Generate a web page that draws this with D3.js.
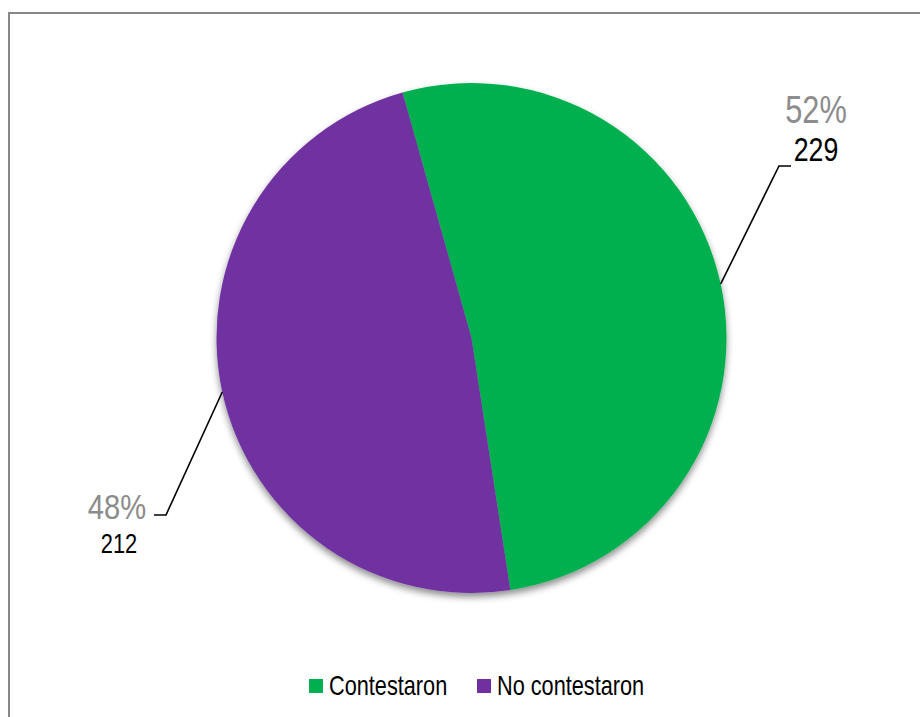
<!DOCTYPE html>
<html>
<head>
<meta charset="utf-8">
<script src="https://cdn.jsdelivr.net/npm/d3@7"></script>
<style>
  html, body { margin: 0; padding: 0; background: #fff; }
  svg { display: block; }
  text { font-family: "Liberation Sans", Arial, sans-serif; }
</style>
</head>
<body>
<svg id="chart" width="920" height="717"></svg>
<script>
// Survey responses
const categories = ["Contestaron", "No contestaron"];
const values = [229, 212];
const colors = ["#00B050", "#7030A0"];

const svg = d3.select("#chart");
const W = 920, H = 717;
const NARROW = 0.81; // horizontal squeeze giving a narrow face

// chart-area frame
svg.append("rect")
  .attr("x", 9).attr("y", 13)
  .attr("width", W).attr("height", H)
  .attr("fill", "#fff")
  .attr("stroke", "#878787")
  .attr("stroke-width", 2);

// soft shadow under the pie
const defs = svg.append("defs");
const f = defs.append("filter").attr("id", "pieShadow")
  .attr("x", "-10%").attr("y", "-10%").attr("width", "120%").attr("height", "125%");
f.append("feDropShadow")
  .attr("dx", 0).attr("dy", 4)
  .attr("stdDeviation", 3.5)
  .attr("flood-color", "#000")
  .attr("flood-opacity", 0.45);

const cx = 471.5, cy = 338, R = 255;
const start = -15.7 * Math.PI / 180;

const data = categories.map((c, i) => ({ name: c, value: values[i], color: colors[i] }));
const total = d3.sum(values);
const pct = d3.format(".0%");

const pie = d3.pie().value(d => d.value).sort(null)
  .startAngle(start).endAngle(start + 2 * Math.PI);
const arcs = pie(data);
const arc = d3.arc().innerRadius(0).outerRadius(R);

const g = svg.append("g").attr("transform", `translate(${cx},${cy})`);
const slices = g.append("g").attr("filter", "url(#pieShadow)");
slices.selectAll("path")
  .data(arcs)
  .join("path")
  .attr("d", arc)
  .attr("fill", d => d.data.color);

function narrowText(parent, x, y, size, fill, anchor, str) {
  return parent.append("text")
    .attr("transform", `translate(${x},${y}) scale(${NARROW},1)`)
    .attr("text-anchor", anchor)
    .attr("font-size", size)
    .attr("fill", fill)
    .text(str);
}

// leader lines and labels
const labelLayout = [
  { elbow: [307.5, -172], tail: 12, pctDx: 37, pctDy: -43, pctSize: 38, valDx: 37, valDy: -5, valSize: 33 },
  { elbow: [-305.5, 177], tail: -12, pctDx: -49, pctDy: 4, pctSize: 36, valDx: -47, valDy: 38, valSize: 27 }
];

arcs.forEach((a, i) => {
  const L = labelLayout[i];
  const mid = (a.startAngle + a.endAngle) / 2;
  const p0 = [Math.sin(mid) * R, -Math.cos(mid) * R];
  const p1 = L.elbow;
  const p2 = [p1[0] + L.tail, p1[1]];
  g.append("polyline")
    .attr("points", [p0, p1, p2].map(p => p.join(",")).join(" "))
    .attr("fill", "none")
    .attr("stroke", "#000")
    .attr("stroke-width", 1.6);

  narrowText(g, p1[0] + L.pctDx, p1[1] + L.pctDy, L.pctSize, "#8c8c8c", "middle",
    pct(a.data.value / total));
  narrowText(g, p1[0] + L.valDx, p1[1] + L.valDy, L.valSize, "#000", "middle",
    a.data.value);
});

// legend
const legend = svg.append("g");
const legendX = [309, 477];
data.forEach((d, i) => {
  const lg = legend.append("g").attr("transform", `translate(${legendX[i]},679)`);
  lg.append("rect").attr("width", 14).attr("height", 14).attr("fill", d.color);
  narrowText(lg, 20, 16, 26.8, "#000", "start", d.name);
});
</script>
</body>
</html>
